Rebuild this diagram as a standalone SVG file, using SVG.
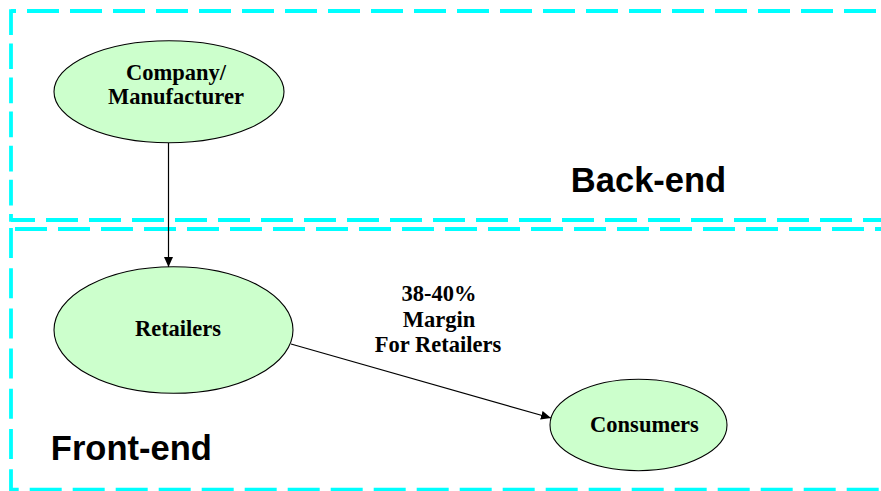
<svg xmlns="http://www.w3.org/2000/svg" width="881" height="491" viewBox="0 0 881 491">
<style>
.zone{fill:none;stroke:#00FFFF;stroke-width:3.8}
.h{stroke-dasharray:32 11}
.node ellipse{fill:#CCFFCC;stroke:#000;stroke-width:1.1}
.node text{font-family:"Liberation Serif","Times New Roman",serif;font-weight:bold;font-size:22.5px;fill:#000;text-anchor:middle}
.lbl{font-family:"Liberation Serif","Times New Roman",serif;font-weight:bold;font-size:22.5px;fill:#000;text-anchor:middle}
.zt{font-family:"Liberation Sans",Arial,sans-serif;font-weight:bold;font-size:34.5px;fill:#000;text-anchor:middle}
.edge{stroke:#000;stroke-width:1.2;fill:none;marker-end:url(#arr)}
</style>
<defs>
<marker id="arr" markerUnits="userSpaceOnUse" markerWidth="10" markerHeight="10" viewBox="0 0 10 10" refX="10" refY="5" orient="auto">
<path d="M0,0.5 L10,5 L0,9.5 Z" fill="#000"/>
</marker>
</defs>
<g id="zones">
<line class="zone h" x1="11" y1="11" x2="881" y2="11" stroke-dashoffset="27"/>
<line class="zone h" x1="11" y1="220" x2="881" y2="220" stroke-dashoffset="8"/>
<line class="zone" x1="11" y1="9.3" x2="11" y2="221.7" stroke-dasharray="25.7 8.4"/>
<line class="zone h" x1="15" y1="229" x2="881" y2="229"/>
<line class="zone h" x1="11" y1="489.6" x2="881" y2="489.6" stroke-dashoffset="24.3"/>
<line class="zone" x1="11" y1="228" x2="11" y2="491" stroke-dasharray="30 10.2"/>
<text class="zt" x="648.5" y="191.7">Back-end</text>
<text class="zt" x="131.3" y="460">Front-end</text>
</g>
<g id="connectors">
<line class="edge" x1="168.5" y1="143" x2="168.5" y2="267"/>
<line class="edge" x1="291" y1="344" x2="551" y2="418"/>
<text class="lbl" x="439" y="301">38-40%</text>
<text class="lbl" x="439" y="327">Margin</text>
<text class="lbl" x="438" y="352.3">For Retailers</text>
</g>
<g id="company" class="node">
<ellipse cx="169" cy="91.7" rx="115" ry="51"/>
<text x="176" y="80">Company/</text>
<text x="176" y="104.3">Manufacturer</text>
</g>
<g id="retailers" class="node">
<ellipse cx="173.5" cy="330" rx="119.5" ry="63.3"/>
<text x="178" y="336">Retailers</text>
</g>
<g id="consumers" class="node">
<ellipse cx="638.5" cy="425" rx="88.5" ry="45.7"/>
<text x="644.5" y="432">Consumers</text>
</g>
</svg>
